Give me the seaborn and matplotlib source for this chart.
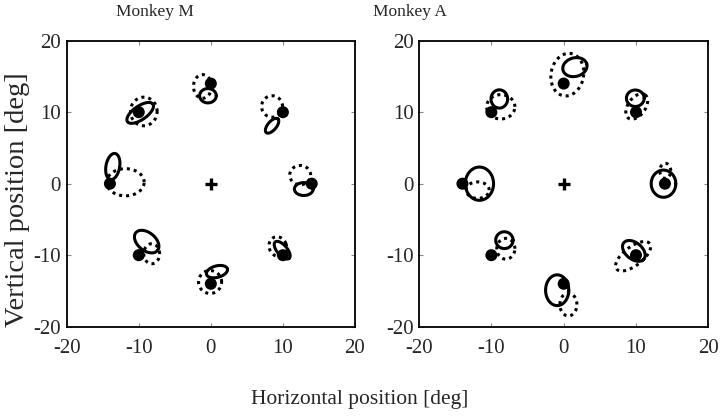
import matplotlib
matplotlib.use("Agg")
import matplotlib.pyplot as plt
import seaborn as sns
import pandas as pd
import numpy as np

# target positions (same for both monkeys)
target_x = [14, 10, 0, -10, -14, -10, 0, 10]
target_y = [0, 10, 14, 10, 0, -10, -14, -10]

# ellipses: centre x, centre y, width, height, angle (deg)
m_solid_cx = [12.9, 8.5, -0.4, -9.8, -13.6, -8.9, 0.85, 9.9]
m_solid_cy = [-0.75, 8.1, 12.3, 9.9, 2.4, -8.1, -12.3, -9.3]
m_solid_w = [2.6, 2.5, 2.3, 4.3, 1.9, 3.9, 3.0, 3.0]
m_solid_h = [1.8, 1.2, 2.0, 1.9, 3.7, 2.5, 1.6, 1.4]
m_solid_a = [0, 50, 0, 35, -10, -40, 15, -50]

m_dot_cx = [12.4, 8.5, -1.15, -9.3, -11.85, -8.2, -0.1, 9.3]
m_dot_cy = [1.2, 10.8, 13.6, 10.1, 0.2, -9.8, -13.75, -8.8]
m_dot_w = [2.9, 2.9, 2.5, 3.7, 5.2, 2.2, 3.2, 2.4]
m_dot_h = [2.7, 3.0, 3.3, 4.0, 3.8, 2.8, 3.2, 2.8]
m_dot_a = [0, 0, 0, 0, 0, 0, 0, 20]

a_solid_cx = [13.8, 9.9, 1.55, -8.9, -11.65, -8.2, -0.9, 9.7]
a_solid_cy = [0.0, 11.95, 16.3, 11.85, 0.0, -7.9, -14.9, -9.4]
a_solid_w = [3.4, 2.45, 3.4, 2.3, 3.9, 2.4, 3.2, 3.6]
a_solid_h = [3.8, 2.3, 2.6, 2.55, 4.65, 2.35, 4.3, 2.3]
a_solid_a = [0, 0, 15, 0, 0, 0, 0, -40]

a_dot_cx = [14.05, 10.1, 0.5, -8.7, -11.9, -8.0, 0.65, 9.6]
a_dot_cy = [1.8, 10.8, 15.25, 10.75, -0.9, -9.1, -16.9, -10.15]
a_dot_w = [1.5, 4.0, 4.5, 3.9, 3.2, 2.5, 2.35, 5.8]
a_dot_h = [2.1, 2.4, 6.0, 3.4, 2.3, 2.9, 3.2, 2.6]
a_dot_a = [0, 55, -10, 0, 0, 0, 0, 38]

titles = ["Monkey M", "Monkey A"]
title_x = [0.215, 0.569]


def ellipse_frame(cx, cy, w, h, ang, kind):
    t = np.linspace(0, 2 * np.pi, 121)
    rows = []
    for i in range(len(cx)):
        th = np.deg2rad(ang[i])
        ex = w[i] / 2 * np.cos(t)
        ey = h[i] / 2 * np.sin(t)
        x = cx[i] + ex * np.cos(th) - ey * np.sin(th)
        y = cy[i] + ex * np.sin(th) + ey * np.cos(th)
        rows.append(pd.DataFrame({"x": x, "y": y, "id": kind + str(i), "kind": kind}))
    return pd.concat(rows, ignore_index=True)


sns.set_style("white")
plt.rcParams["font.family"] = ["Liberation Serif", "DejaVu Serif"]
plt.rcParams["axes.unicode_minus"] = False

fig = plt.figure(figsize=(7.2, 4.16), dpi=100)
ax1 = fig.add_axes([0.0926, 0.2147, 0.4004, 0.6875])
ax2 = fig.add_axes([0.582, 0.2147, 0.4018, 0.6875])

sets = [
    (ax1, m_solid_cx, m_solid_cy, m_solid_w, m_solid_h, m_solid_a,
     m_dot_cx, m_dot_cy, m_dot_w, m_dot_h, m_dot_a),
    (ax2, a_solid_cx, a_solid_cy, a_solid_w, a_solid_h, a_solid_a,
     a_dot_cx, a_dot_cy, a_dot_w, a_dot_h, a_dot_a),
]

for k, (ax, scx, scy, sw, sh, sa, dcx, dcy, dw, dh, da) in enumerate(sets):
    df = pd.concat([ellipse_frame(scx, scy, sw, sh, sa, "solid"),
                    ellipse_frame(dcx, dcy, dw, dh, da, "dotted")], ignore_index=True)
    sns.lineplot(data=df, x="x", y="y", units="id", estimator=None, sort=False,
                 style="kind", dashes={"solid": "", "dotted": (1, 1.3)},
                 color="black", linewidth=2.2, legend=False, ax=ax)
    tg = pd.DataFrame({"x": target_x, "y": target_y})
    sns.scatterplot(data=tg, x="x", y="y", color="black", s=75, edgecolor="none", ax=ax, zorder=5)
    ax.plot([0], [0], marker="+", markersize=8, mew=2.4, color="black")
    ax.set_xlim(-20, 20)
    ax.set_ylim(-20, 20)
    ax.set_xticks([-20, -10, 0, 10, 20])
    ax.set_yticks([-20, -10, 0, 10, 20])
    ax.tick_params(direction="in", length=3, width=0.8, color="#888888",
                   labelsize=15, top=True, right=True, bottom=True, left=True)
    ax.tick_params(axis="x", pad=9)
    ax.tick_params(axis="y", pad=4)
    ax.set_xlabel("")
    ax.set_ylabel("")
    for s in ax.spines.values():
        s.set_color("black")
        s.set_linewidth(1.3)
    fig.text(title_x[k], 0.972, titles[k], ha="center", va="center", fontsize=12.5)

fig.text(0.5, 0.04, "Horizontal position [deg]", ha="center", va="center", fontsize=15.5)
fig.text(0.024, 0.52, "Vertical position [deg]", ha="center", va="center",
         rotation=90, fontsize=20.5)

plt.savefig("out.png", dpi=100)
